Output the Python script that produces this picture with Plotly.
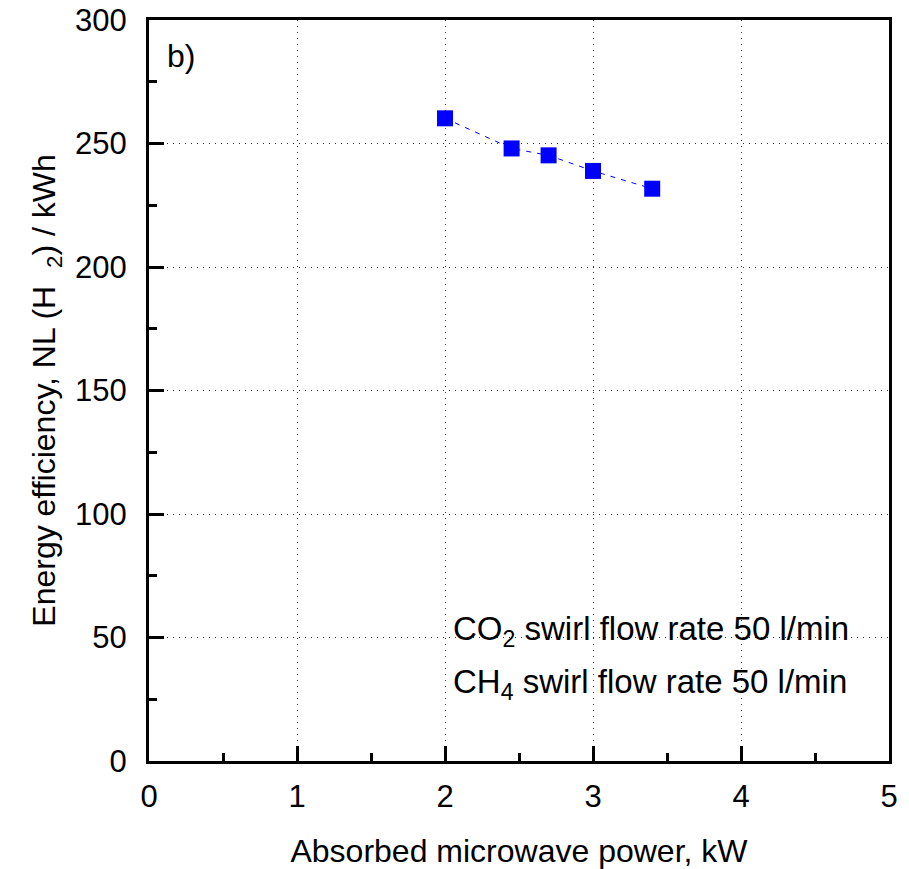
import plotly.graph_objects as go

power_kw = [2.0, 2.45, 2.7, 3.0, 3.4]
efficiency = [260.2, 248.0, 245.2, 238.9, 231.7]

fig = go.Figure()
fig.add_trace(go.Scatter(
    x=power_kw, y=efficiency, mode="lines+markers",
    line=dict(color="#0000FF", width=1, dash="5px,6px"),
    marker=dict(symbol="square", size=16, color="#0000FF"),
    showlegend=False,
))

fam = "Liberation Sans, Arial, sans-serif"
tick_font = dict(family=fam, size=31, color="black")
title_font = dict(family=fam, size=32, color="black")
note_font = dict(family=fam, size=33, color="black")

axis_common = dict(
    showline=True, linecolor="black", linewidth=3, mirror=True,
    ticks="inside", ticklen=15, tickwidth=3, tickcolor="black",
    showgrid=True, gridcolor="#333333", gridwidth=1, griddash="1px,5px",
    zeroline=False, tickfont=tick_font, automargin=False,
)

fig.update_xaxes(
    range=[0, 5], tickvals=[0, 1, 2, 3, 4, 5],
    minor=dict(ticks="inside", ticklen=8, tickwidth=3, tickcolor="black", dtick=0.5, tick0=0, showgrid=False),
    title=dict(text="Absorbed microwave power, kW", font=title_font, standoff=30),
    ticklabelstandoff=6,
    **axis_common,
)
fig.update_yaxes(
    range=[0, 300], tickvals=[0, 50, 100, 150, 200, 250, 300],
    minor=dict(ticks="inside", ticklen=8, tickwidth=3, tickcolor="black", dtick=25, tick0=0, showgrid=False),
    title=dict(text="Energy efficiency, NL (H  <sub>2</sub>) / kWh", font=title_font, standoff=10),
    ticklabelstandoff=13,
    **axis_common,
)

fig.add_annotation(x=0.021, y=0.978, xref="paper", yref="paper", text="b)", showarrow=False,
                   xanchor="left", yanchor="top", font=title_font)
fig.add_annotation(x=0.408, y=0.175, xref="paper", yref="paper",
                   text="CO<sub>2</sub> swirl flow rate 50 l/min", showarrow=False,
                   xanchor="left", yanchor="middle", font=note_font)
fig.add_annotation(x=0.408, y=0.104, xref="paper", yref="paper",
                   text="CH<sub>4</sub> swirl flow rate 50 l/min", showarrow=False,
                   xanchor="left", yanchor="middle", font=note_font)

fig.update_layout(
    width=909, height=869,
    margin=dict(l=149, r=20, t=20, b=108),
    paper_bgcolor="white", plot_bgcolor="white",
    font=title_font,
)

fig.write_html("out.html")
